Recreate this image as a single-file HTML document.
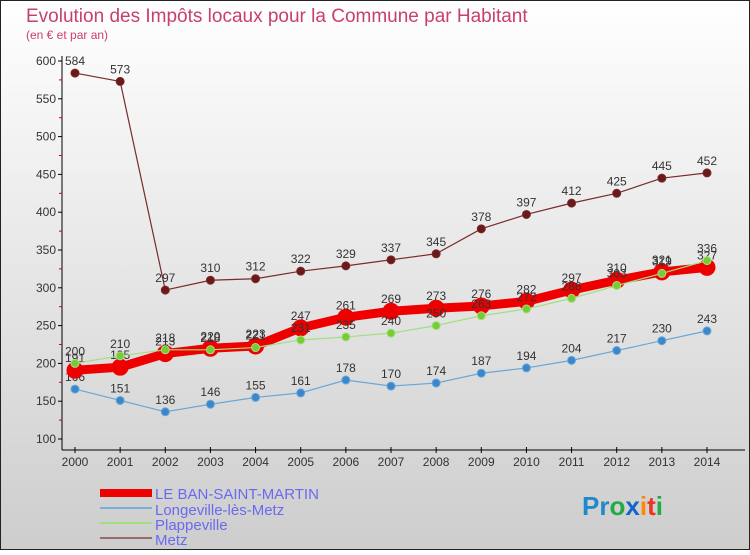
<!DOCTYPE html>
<html><head><meta charset="utf-8"><style>
html,body{margin:0;padding:0;}
body{width:750px;height:550px;overflow:hidden;font-family:"Liberation Sans",sans-serif;}
svg text{font-family:"Liberation Sans",sans-serif;}
</style></head><body>
<svg id="chart" width="750" height="550" xmlns="http://www.w3.org/2000/svg">
<defs><linearGradient id="bg" x1="0" y1="0" x2="0" y2="1"><stop offset="0" stop-color="#ffffff"/><stop offset="1" stop-color="#cdcdcd"/></linearGradient></defs>
<rect x="0.5" y="0.5" width="749" height="549" fill="url(#bg)" stroke="#222"/>
<text x="26" y="22" font-size="19" fill="#c8406a">Evolution des Impôts locaux pour la Commune par Habitant</text>
<text x="26" y="39" font-size="12" fill="#c8406a">(en € et par an)</text>
<g id="axes"></g>
<g id="series"></g>
<g id="legend">
<rect x="100" y="489" width="52" height="8" fill="#ee0000"/>
<text x="155" y="499" font-size="15" fill="#6a6af0">LE BAN-SAINT-MARTIN</text>
<rect x="100" y="507" width="52" height="2" fill="#7aaed6"/>
<text x="155" y="515" font-size="15" fill="#6a6af0">Longeville-lès-Metz</text>
<rect x="100" y="522" width="52" height="2" fill="#a0e080"/>
<text x="155" y="530" font-size="15" fill="#6a6af0">Plappeville</text>
<rect x="100" y="537" width="52" height="2" fill="#9a6a6a"/>
<text x="155" y="545" font-size="15" fill="#6a6af0">Metz</text>
</g>
<text x="582" y="515" font-size="26" font-weight="bold"><tspan fill="#2288cc">Pr</tspan><tspan fill="#22aa44">o</tspan><tspan fill="#1166cc">x</tspan><tspan fill="#ff8800">i</tspan><tspan fill="#ee3322">t</tspan><tspan fill="#22aa44">i</tspan></text>
</svg>
<script>
const years=[2000,2001,2002,2003,2004,2005,2006,2007,2008,2009,2010,2011,2012,2013,2014];
const yTicks=[100,150,200,250,300,350,400,450,500,550,600];
const banValues=[191,195,213,220,223,247,261,269,273,276,282,297,310,321,327];
const longevilleValues=[166,151,136,146,155,161,178,170,174,187,194,204,217,230,243];
const plappevilleValues=[200,210,218,218,221,231,235,240,250,263,272,286,303,319,336];
const metzValues=[584,573,297,310,312,322,329,337,345,378,397,412,425,445,452];
const NS="http://www.w3.org/2000/svg";
function xS(i){return 75+i*(707-75)/(years.length-1);}
function yS(v){return 439-(v-100)*(439-61)/500;}
function mk(tag,attrs,parent){const e=document.createElementNS(NS,tag);for(const k in attrs)e.setAttribute(k,attrs[k]);parent.appendChild(e);return e;}
const axes=document.getElementById('axes');
let a=mk('line',{x1:62,y1:56,x2:62,y2:450,stroke:'#000','stroke-width':1},axes);


a=mk('line',{x1:62,y1:450,x2:745,y2:450,stroke:'#000','stroke-width':1},axes);


yTicks.forEach((t,i)=>{
  const y=yS(t);
  let l=mk('line',{x1:58,y1:y,x2:62,y2:y,stroke:'#000'},axes);
  
  
  let tx=mk('text',{x:56,y:y+4,'font-size':12,fill:'#333','text-anchor':'end'},axes);
  tx.textContent=t;
  
  
  if(i<yTicks.length-1){
    let m=mk('line',{x1:59,y1:yS(t+25),x2:62,y2:yS(t+25),stroke:'#d00'},axes);
    
    
  }
});
years.forEach((yr,i)=>{
  const x=xS(i);
  let l=mk('line',{x1:x,y1:447,x2:x,y2:453,stroke:'#000'},axes);
  
  
  let tx=mk('text',{x:x,y:466,'font-size':12,fill:'#333','text-anchor':'middle'},axes);
  tx.textContent=yr;
  
  
});
const ser=document.getElementById('series');
function draw(vals,name,color,dot,w,r){
  const g=mk('g',{},ser);
  
  
  const p=mk('polyline',{points:vals.map((v,i)=>xS(i)+','+yS(v)).join(' '),fill:'none',stroke:color,'stroke-width':w,'stroke-linejoin':'round'},g);
  
  
  vals.forEach((v,i)=>{
    const c=mk('circle',{cx:xS(i),cy:yS(v),r:r,fill:dot,stroke:color,'stroke-width':1},g);
    
    
    const t=mk('text',{x:xS(i),y:yS(v)-8,'font-size':12,fill:'#333','text-anchor':'middle'},g);
    t.textContent=v;
    
    
  });
}
draw(metzValues,'metz','#7a2a2a','#6a1a1a',1.2,4);
draw(longevilleValues,'longeville','#6aa6d6','#3a88cc',1.2,4);
draw(banValues,'le-ban-saint-martin','#ee0000','#ee0000',9,8);
draw(plappevilleValues,'plappeville','#a0e080','#77cc33',1.2,4);
</script>
</body></html>
